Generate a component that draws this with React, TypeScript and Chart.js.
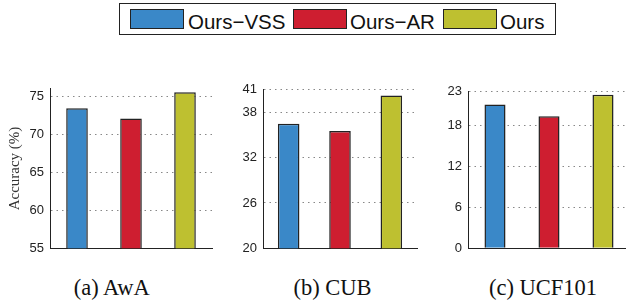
import React, { useEffect, useRef } from "react";
import { Chart, registerables } from "chart.js";
Chart.register(...registerables);

const methods = ["Ours−VSS", "Ours−AR", "Ours"];
const colors = ["rgb(58,136,200)", "rgb(206,30,48)", "rgb(190,192,48)"];
const awaValues = [73.45, 72.1, 75.55];
const cubValues = [36.5, 35.55, 40.25];
const ucfValues = [21.15, 19.4, 22.55];
const awaTicks = [55, 60, 65, 70, 75];
const cubTicks = [20, 26, 32, 38, 41];
const ucfTicks = [0, 6, 12, 18, 23];
const awaRange = [55, 76];
const cubRange = [20, 41];
const ucfRange = [0, 23];
const captions = ["(a) AwA", "(b) CUB", "(c) UCF101"];
const yTitle = "Accuracy (%)";

type PanelProps = {
  values: number[];
  ticks: number[];
  range: number[];
  title?: string;
  left: number;
  top: number;
  width: number;
  height: number;
  axisWidth: number;
  barPct: number;
};

function Panel(p: PanelProps) {
  const ref = useRef<HTMLCanvasElement>(null);
  useEffect(() => {
    const chart = new Chart(ref.current!, {
      type: "bar",
      data: {
        labels: methods,
        datasets: [
          {
            data: p.values,
            backgroundColor: colors,
            borderColor: "#222",
            borderWidth: 1.5,
            barPercentage: p.barPct,
            categoryPercentage: 1,
          },
        ],
      },
      options: {
        responsive: false,
        animation: false,
        devicePixelRatio: 1,
        layout: { padding: { top: 10, bottom: 10, left: 0, right: 2 } },
        plugins: {
          legend: { display: false },
          tooltip: { enabled: false },
          title: { display: false },
        },
        scales: {
          x: {
            grid: { display: false, drawTicks: false },
            ticks: { display: false },
            border: { display: true, color: "#222", width: 1 },
          },
          y: {
            min: p.range[0],
            max: p.range[1],
            afterBuildTicks: (s: any) => {
              s.ticks = p.ticks.map((v) => ({ value: v }));
            },
            afterFit: (s: any) => {
              s.width = p.axisWidth;
            },
            ticks: {
              padding: 6,
              font: { family: "Liberation Sans", size: 13 },
              color: "#222",
            },
            grid: {
              drawTicks: false,
              lineWidth: 1,
              color: (c: any) =>
                c.tick && c.tick.value === p.range[0] ? "rgba(0,0,0,0)" : "#888",
            },
            border: { display: true, color: "#222", width: 1, dash: [1.5, 4] },
            title: p.title
              ? {
                  display: true,
                  text: p.title,
                  font: { family: "Liberation Serif", size: 15 },
                  color: "#333",
                  padding: { top: 6, bottom: 0 },
                }
              : { display: false },
          },
        },
      },
    } as any);
    return () => chart.destroy();
  }, []);
  return (
    <canvas
      ref={ref}
      width={p.width}
      height={p.height}
      style={{ position: "absolute", left: p.left, top: p.top, width: p.width, height: p.height }}
    />
  );
}

const legendSwatchX = [130, 293, 443];
const legendTextX = [188, 350, 500];
const captionCenters = [111.7, 332.5, 543];

export default function App() {
  return (
    <div
      style={{
        position: "absolute",
        left: 0,
        top: 0,
        width: 626,
        height: 304,
        overflow: "hidden",
        background: "#fff",
      }}
    >
      <Panel values={awaValues} ticks={awaTicks} range={awaRange} title={yTitle}
        left={0} top={75} width={214} height={187} axisWidth={50} barPct={0.4} />
      <Panel values={cubValues} ticks={cubTicks} range={cubRange}
        left={215} top={76} width={204} height={186} axisWidth={48} barPct={0.42} />
      <Panel values={ucfValues} ticks={ucfTicks} range={ucfRange}
        left={420} top={78} width={212} height={184} axisWidth={48} barPct={0.39} />

      <div
        style={{
          position: "absolute",
          left: 119,
          top: 3,
          width: 437,
          height: 32,
          border: "1.5px solid #222",
          boxSizing: "border-box",
        }}
      />
      {methods.map((m, i) => (
        <React.Fragment key={m}>
          <div
            style={{
              position: "absolute",
              left: legendSwatchX[i],
              top: 9,
              width: 54,
              height: 20,
              background: colors[i],
              border: "1.5px solid #222",
              boxSizing: "border-box",
            }}
          />
          <div
            style={{
              position: "absolute",
              left: legendTextX[i],
              top: 11.5,
              fontFamily: "Liberation Sans",
              fontSize: 20.5,
              lineHeight: 1,
              color: "#111",
              whiteSpace: "nowrap",
            }}
          >
            {m}
          </div>
        </React.Fragment>
      ))}
      {captions.map((c, i) => (
        <div
          key={c}
          style={{
            position: "absolute",
            left: captionCenters[i] - 100,
            width: 200,
            top: 277,
            textAlign: "center",
            fontFamily: "Liberation Serif",
            fontSize: 22.5,
            lineHeight: 1,
            color: "#111",
            whiteSpace: "nowrap",
          }}
        >
          {c}
        </div>
      ))}
    </div>
  );
}
